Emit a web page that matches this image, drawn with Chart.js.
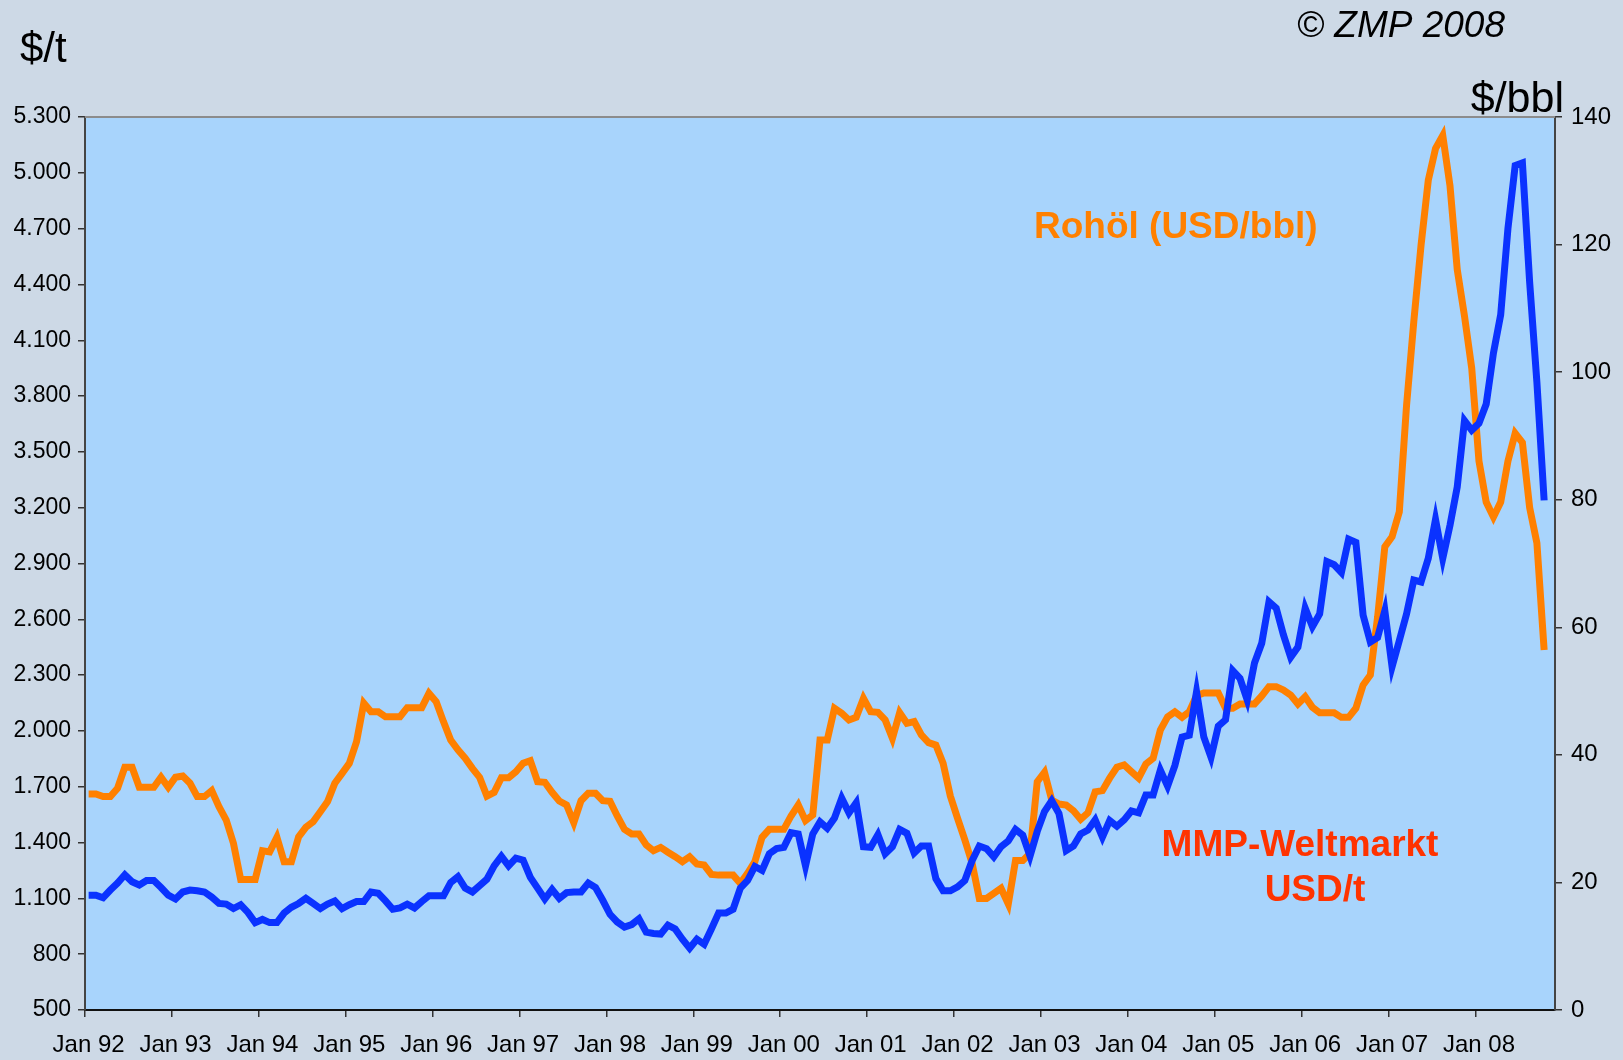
<!DOCTYPE html>
<html>
<head>
<meta charset="utf-8">
<script src="https://cdn.jsdelivr.net/npm/chart.js@4.4.1/dist/chart.umd.min.js"></script>
<style>
  html, body { margin: 0; padding: 0; background: #cdd9e6; }
  #wrap { width: 1623px; height: 1060px; }
</style>
</head>
<body>
<div id="wrap"><canvas id="chart" width="1623" height="1060"></canvas></div>
<script>
// categories: monthly, Jan 92 .. Nov 08 (last month empty)
const monthNames = ['Jan', 'Feb', 'Mrz', 'Apr', 'Mai', 'Jun', 'Jul', 'Aug', 'Sep', 'Okt', 'Nov', 'Dez'];
const years = ['92', '93', '94', '95', '96', '97', '98', '99', '00', '01', '02', '03', '04', '05', '06', '07', '08'];
const lastYearMonths = 11;

// MMP world market price, USD/t (left axis)
const mmpPrice = [
  1661, 1661, 1647, 1647, 1692, 1805, 1805, 1697, 1697, 1697, 1751, 1697,
  1751, 1758, 1719, 1647, 1647, 1679, 1593, 1521, 1396, 1202, 1202, 1202,
  1356, 1350, 1428, 1297, 1297, 1431, 1482, 1512, 1566, 1620, 1719, 1772,
  1826, 1942, 2149, 2103, 2103, 2076, 2076, 2076, 2125, 2125, 2125, 2202,
  2157, 2050, 1951, 1898, 1853, 1799, 1750, 1650, 1670, 1749, 1749, 1781,
  1826, 1840, 1727, 1724, 1670, 1623, 1602, 1507, 1625, 1665, 1665, 1625,
  1622, 1543, 1471, 1446, 1446, 1387, 1356, 1374, 1348, 1324, 1297, 1324,
  1285, 1279, 1229, 1225, 1225, 1225, 1181, 1235, 1297, 1428, 1471, 1471,
  1471, 1543, 1602, 1518, 1548, 1951, 1951, 2122, 2095, 2059, 2073, 2175,
  2103, 2100, 2059, 1960, 2098, 2041, 2050, 1978, 1937, 1924, 1826, 1650,
  1530, 1414, 1290, 1100, 1100, 1127, 1154, 1070, 1303, 1303, 1342, 1727,
  1778, 1629, 1607, 1602, 1571, 1525, 1560, 1673, 1679, 1746, 1805, 1817,
  1781, 1746, 1822, 1853, 2005, 2076, 2103, 2073, 2103, 2190, 2204, 2204,
  2204, 2122, 2122, 2145, 2145, 2145, 2188, 2238, 2238, 2220, 2193, 2145,
  2184, 2127, 2098, 2098, 2098, 2073, 2073, 2122, 2247, 2301, 2611, 2990,
  3044, 3178, 3750, 4200, 4610, 4960, 5130, 5200, 4930, 4480, 4230, 3950,
  3450, 3230, 3150, 3230, 3450, 3600, 3550, 3200, 3010, 2435
];

// crude oil, USD/bbl (right axis)
const oilPrice = [
  18.0, 18.0, 17.6, 18.8, 19.9, 21.2, 20.1, 19.6, 20.3, 20.3, 19.2, 18.0,
  17.4, 18.5, 18.8, 18.7, 18.5, 17.7, 16.7, 16.6, 15.9, 16.5, 15.3, 13.7,
  14.2, 13.7, 13.7, 15.2, 16.1, 16.7, 17.5, 16.7, 15.9, 16.6, 17.1, 15.9,
  16.5, 17.0, 17.0, 18.5, 18.3, 17.1, 15.8, 16.0, 16.6, 16.0, 17.0, 17.9,
  17.9, 17.9, 20.0, 20.9, 19.1, 18.5, 19.5, 20.5, 22.6, 24.1, 22.6, 23.8,
  23.5, 20.8, 19.1, 17.4, 18.9, 17.5, 18.4, 18.5, 18.5, 19.9, 19.2, 17.2,
  15.0, 13.8, 13.0, 13.4, 14.3, 12.2, 12.0, 11.9, 13.3, 12.7, 11.1, 9.7,
  11.1, 10.3, 12.7, 15.2, 15.2, 15.8, 19.1, 20.3, 22.5, 21.9, 24.5, 25.3,
  25.5, 27.8, 27.6, 22.6, 27.6, 29.5, 28.5, 30.1, 33.2, 30.9, 32.5, 25.6,
  25.5, 27.5, 24.5, 25.6, 28.3, 27.7, 24.6, 25.7, 25.7, 20.6, 18.7, 18.7,
  19.3, 20.3, 23.4, 25.7, 25.3, 24.0, 25.6, 26.5, 28.3, 27.4, 24.1, 28.0,
  31.1, 32.8, 30.8, 25.0, 25.7, 27.6, 28.2, 29.8, 27.1, 29.7, 28.8, 29.8,
  31.2, 30.9, 33.7, 33.7, 37.6, 35.1, 38.3, 42.8, 43.1, 49.9, 42.8, 39.6,
  44.5, 45.5, 53.2, 52.0, 48.6, 54.4, 57.5, 64.0, 63.0, 58.8, 55.3, 56.9,
  63.0, 60.1, 62.1, 70.3, 69.8, 68.6, 73.8, 73.3, 61.9, 57.7, 58.4, 62.6,
  53.8, 57.9, 62.1, 67.4, 67.1, 70.8, 76.9, 70.8, 76.0, 82.0, 92.4, 90.9,
  92.0, 95.0, 103.0, 109.0, 122.5, 132.4, 132.8, 114.1, 98.4, 79.9
];

const labels = [];
years.forEach((y, yi) => {
  const n = yi === years.length - 1 ? lastYearMonths : 12;
  for (let m = 0; m < n; m++) labels.push(monthNames[m] + ' ' + y);
});

const font = "'Liberation Sans', Arial, Helvetica, sans-serif";

function fmtThousands(v) {
  return String(v).replace(/\B(?=(\d{3})+(?!\d))/g, '.');
}

const decoPlugin = {
  id: 'deco',
  beforeDraw(chart) {
    const { ctx, chartArea: a } = chart;
    ctx.save();
    ctx.fillStyle = '#cdd9e6';
    ctx.fillRect(0, 0, chart.width, chart.height);
    ctx.fillStyle = '#a8d4fc';
    ctx.fillRect(a.left, a.top, a.right - a.left, a.bottom - a.top);
    ctx.restore();
  },
  afterDraw(chart) {
    const { ctx, chartArea: a } = chart;
    ctx.save();
    // top frame line
    ctx.strokeStyle = '#8c8c8c';
    ctx.lineWidth = 2;
    ctx.beginPath();
    ctx.moveTo(a.left, a.top);
    ctx.lineTo(a.right, a.top);
    ctx.stroke();

    ctx.textBaseline = 'alphabetic';
    ctx.fillStyle = '#000';
    ctx.font = '42px ' + font;
    ctx.textAlign = 'left';
    ctx.fillText('$/t', 20, 62);
    ctx.font = '43px ' + font;
    ctx.textAlign = 'right';
    ctx.fillText('$/bbl', 1564, 112);
    ctx.font = 'italic 37px ' + font;
    ctx.fillText('\u00A9 ZMP 2008', 1505, 37);

    ctx.font = 'bold 37px ' + font;
    ctx.textAlign = 'left';
    ctx.fillStyle = '#ff8000';
    ctx.fillText('Rohöl (USD/bbl)', 1034, 238);
    ctx.fillStyle = '#ff3300';
    ctx.textAlign = 'center';
    ctx.fillText('MMP-Weltmarkt', 1300, 856);
    ctx.fillText('USD/t', 1315, 901);
    ctx.restore();
  }
};

const tickColor = '#333';

new Chart(document.getElementById('chart'), {
  type: 'line',
  data: {
    labels: labels,
    datasets: [
      {
        label: 'MMP-Weltmarkt USD/t',
        data: mmpPrice,
        yAxisID: 'y',
        borderColor: '#ff8000',
        borderWidth: 7,
        pointRadius: 0,
        tension: 0,
        order: 1
      },
      {
        label: 'Rohöl (USD/bbl)',
        data: oilPrice,
        yAxisID: 'y1',
        borderColor: '#0a32ff',
        borderWidth: 7,
        pointRadius: 0,
        tension: 0,
        order: 0
      }
    ]
  },
  options: {
    responsive: false,
    animation: false,
    layout: { padding: { top: 117, left: 0, right: 0, bottom: 0 } },
    plugins: { legend: { display: false }, tooltip: { enabled: false } },
    scales: {
      x: {
        offset: true,
        grid: {
          offset: true,
          drawOnChartArea: false,
          tickLength: 7,
          lineWidth: 1.5,
          color: ctx => (ctx.index % 12 === 0 ? tickColor : 'rgba(0,0,0,0)')
        },
        border: { color: '#111', width: 2 },
        ticks: {
          autoSkip: false,
          maxRotation: 0,
          color: '#000',
          padding: 14,
          font: { family: font, size: 24 },
          callback: (v, i) => (i % 12 === 0 ? labels[i] : '')
        },
        afterFit: s => { s.height = 50; }
      },
      y: {
        position: 'left',
        min: 500,
        max: 5300,
        ticks: {
          stepSize: 300,
          color: '#000',
          padding: 7,
          font: { family: font, size: 23 },
          callback: v => fmtThousands(v)
        },
        grid: { drawOnChartArea: false, tickLength: 7, color: tickColor, lineWidth: 1.5 },
        border: { color: '#444', width: 2 },
        afterFit: s => { s.width = 85; }
      },
      y1: {
        position: 'right',
        min: 0,
        max: 140,
        ticks: {
          stepSize: 20,
          color: '#000',
          padding: 9,
          font: { family: font, size: 24 },
          callback: v => v
        },
        grid: { drawOnChartArea: false, tickLength: 7, color: tickColor, lineWidth: 1.5 },
        border: { color: '#444', width: 2 },
        afterFit: s => { s.width = 68; }
      }
    }
  },
  plugins: [decoPlugin]
});
</script>
</body>
</html>
